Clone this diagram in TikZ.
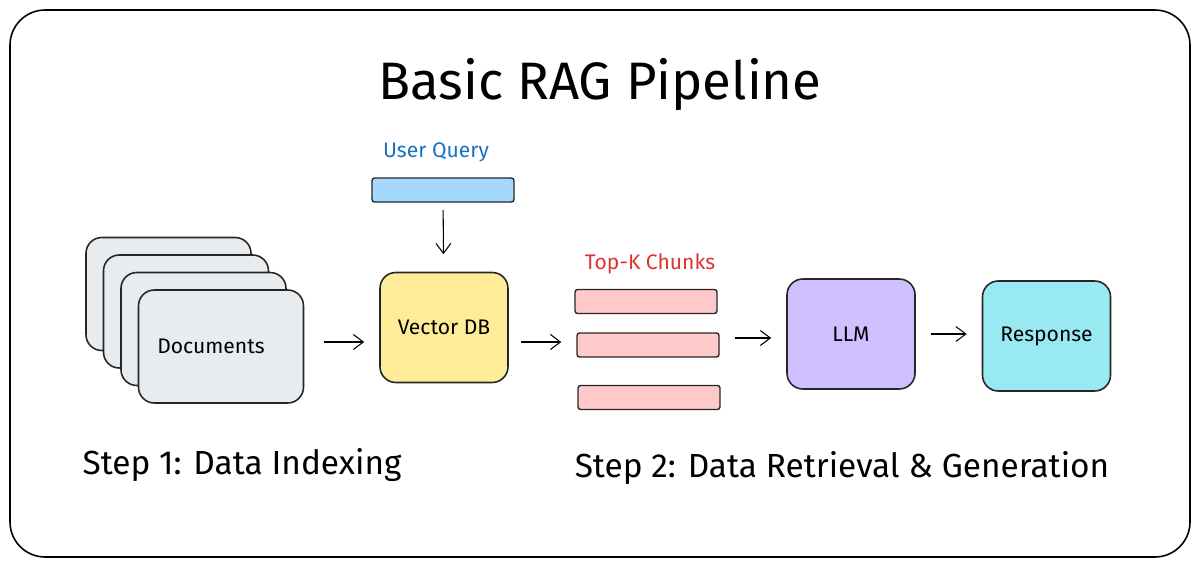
\documentclass[tikz,border=0pt]{standalone}
\usepackage{fontspec}
\setmainfont{Fira Sans}
\usetikzlibrary{positioning,arrows.meta}
\definecolor{docgray}{HTML}{E9ECEF}
\definecolor{dbyellow}{HTML}{FFEC99}
\definecolor{qblue}{HTML}{A5D8FF}
\definecolor{chunkred}{HTML}{FFC9C9}
\definecolor{llmviolet}{HTML}{D0BFFF}
\definecolor{respcyan}{HTML}{99E9F2}
\definecolor{labelblue}{HTML}{1971C2}
\definecolor{labelred}{HTML}{E03131}
\tikzset{
  block/.style={draw=black!85, line width=0.9pt, rounded corners=9pt,
    minimum width=2.56cm, minimum height=2.2cm, font=\large},
  docbox/.style={block, fill=docgray, minimum width=3.3cm, minimum height=2.26cm},
  bar/.style={draw=black!85, line width=0.8pt, rounded corners=1.5pt,
    minimum width=2.84cm, minimum height=0.48cm},
  flow/.style={-{Straight Barb[length=2mm,width=3mm]}, line width=0.6pt,
    shorten <=0.4cm, shorten >=0.3cm},
  steplabel/.style={font=\fontsize{19}{23}\selectfont}
}
\begin{document}
\begin{tikzpicture}
  \useasboundingbox (0,0) rectangle (24,-11.34);
  \draw[line width=0.9pt, rounded corners=20pt] (0.2,-0.2) rectangle (23.8,-11.14);
  \node (title) at (12,-1.7) {\fontsize{30}{36}\selectfont Basic RAG Pipeline};

  % step 1
  \foreach \k in {0,...,3}
    \node[docbox] (doc\k) at (3.37+0.35*\k,-5.88-0.35*\k) {};
  \node[font=\large] at ([xshift=-0.2cm]doc3.center) {Documents};

  % step 2
  \node[font=\large, text=labelblue] (qlabel) at (8.72,-3.04) {User Query};
  \node[bar, fill=qblue] (query) at (8.86,-3.8) {};
  \node[block, fill=dbyellow] (vdb) at (8.88,-6.55) {Vector DB};
  \node[font=\large, text=labelred] (klabel) at (13,-5.28) {Top-K Chunks};
  \node[bar, fill=chunkred] (chunk1) at (12.92,-6.03) {};
  \node[bar, fill=chunkred] (chunk2) at (12.96,-6.9) {};
  \node[bar, fill=chunkred] (chunk3) at (12.98,-7.95) {};
  \node[block, fill=llmviolet] (llm) at (17.02,-6.68) {LLM};
  \node[block, fill=respcyan] (resp) at (20.93,-6.72) {Response};

  \draw[flow, shorten <=0.15cm, shorten >=0.35cm] (query) -- (vdb);
  \draw[flow] (doc3.east |- 0,-6.84) -- (vdb.west |- 0,-6.84);
  \draw[flow, shorten <=0.25cm] (vdb.east |- 0,-6.84) -- (chunk2.west |- 0,-6.84);
  \draw[flow, shorten <=0.3cm] (chunk2.east |- 0,-6.76) -- (llm.west |- 0,-6.76);
  \draw[flow, shorten <=0.3cm] (llm.east) -- (resp.west |- llm.east);

  \node[steplabel] (step1) at (4.84,-9.3) {Step 1: Data Indexing};
  \node[steplabel] (step2) at (16.84,-9.36) {Step 2: Data Retrieval \& Generation};
\end{tikzpicture}
\end{document}
